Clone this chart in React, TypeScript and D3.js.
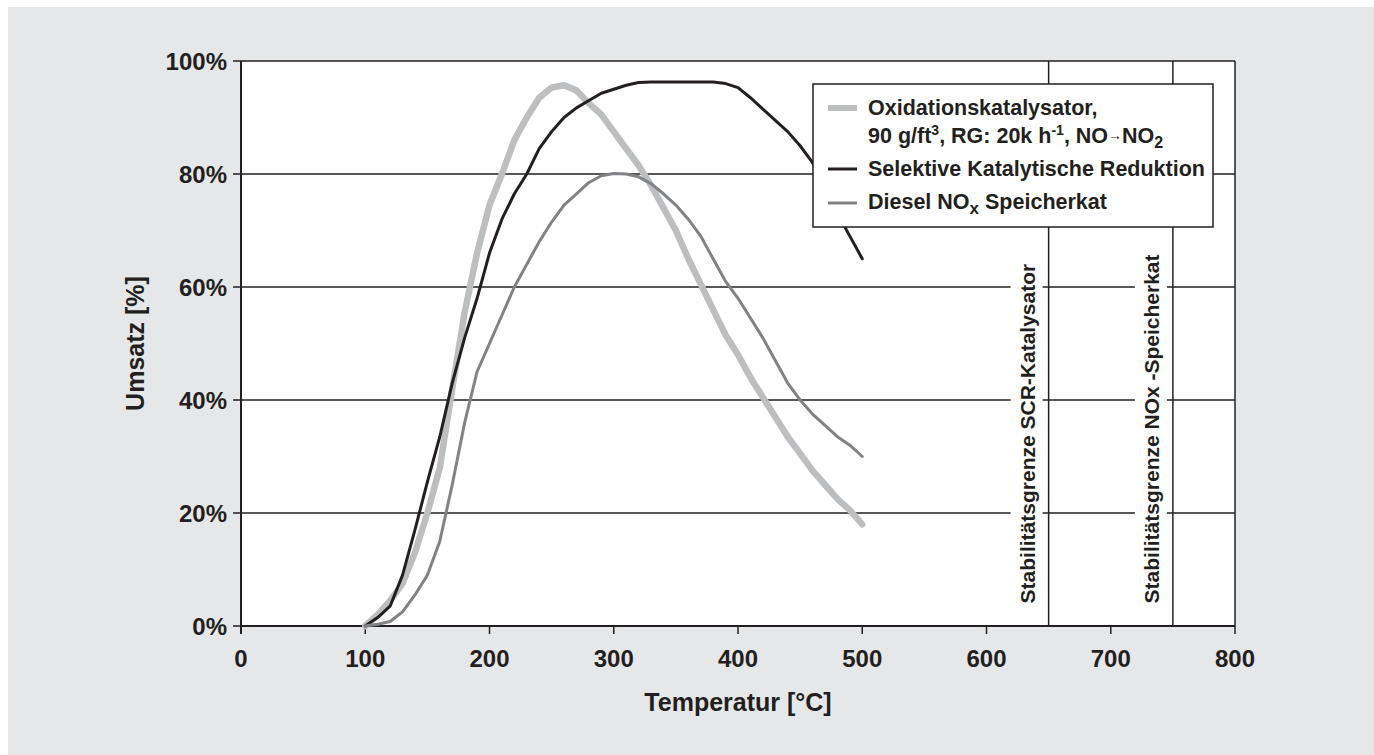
import React from 'react';
import * as d3 from 'd3';

// Temperatur [°C]
const temps = [100, 110, 120, 130, 140, 150, 160, 170, 180, 190, 200, 210, 220, 230, 240, 250, 260, 270, 280, 290, 300, 310, 320, 330, 340, 350, 360, 370, 380, 390, 400, 410, 420, 430, 440, 450, 460, 470, 480, 490, 500];

// Umsatz [%] per series
const oxidation = [0, 2, 4.5, 7.5, 13, 20, 28, 42, 55.5, 66, 74.5, 80, 86, 90, 93.5, 95.3, 95.7, 94.8, 92.5, 90.5, 87.5, 84.5, 81.5, 78, 74, 70, 65, 60.5, 56, 51.5, 48, 44, 40.5, 37, 33.5, 30.5, 27.5, 25, 22.5, 20.5, 18];
const scr = [0, 1.5, 3.5, 9, 17, 25.5, 33.5, 43, 51, 58, 66, 72, 76.5, 80, 84.5, 87.5, 90, 91.7, 93, 94.3, 95, 95.7, 96.2, 96.3, 96.3, 96.3, 96.3, 96.3, 96.3, 96, 95.3, 93.5, 91.5, 89.5, 87.5, 85, 82, 78, 73, 69, 65];
const dieselNox = [0, 0.3, 0.8, 2.5, 5.5, 9, 15, 25, 36, 45, 50, 55, 60, 64, 68, 71.5, 74.5, 76.5, 78.5, 79.7, 80.1, 80, 79.5, 78.3, 76.5, 74.5, 72, 69, 65, 61, 58, 54.5, 51, 47, 43, 40, 37.5, 35.5, 33.5, 32, 30];

const xTicks = [0, 100, 200, 300, 400, 500, 600, 700, 800];
const yTicks = [0, 20, 40, 60, 80, 100];
const limits = [
  { t: 650, label: 'Stabilitätsgrenze SCR-Katalysator' },
  { t: 750, label: 'Stabilitätsgrenze NOx -Speicherkat' },
];

const INK = '#231f20';
const FONT = '"Liberation Sans", Arial, Helvetica, sans-serif';

export default function App() {
  const x = d3.scaleLinear().domain([0, 800]).range([241, 1235]);
  const y = d3.scaleLinear().domain([0, 100]).range([626, 61]);

  const line = d3
    .line<number>()
    .x((_, i) => x(temps[i]))
    .y((d) => y(d));

  const series = [
    { values: oxidation, color: '#bcbec0', width: 6.5 },
    { values: scr, color: INK, width: 3 },
    { values: dieselNox, color: '#808285', width: 3 },
  ];

  return (
    <svg
      width={1374}
      height={755}
      style={{ position: 'absolute', left: 0, top: 0 }}
      fontFamily={FONT}
      fontWeight="bold"
    >
      <rect x={8} y={7} width={1366} height={748} fill="#e6e7e8" />
      <rect x={x(0)} y={y(100)} width={x(800) - x(0)} height={y(0) - y(100)} fill="#fff" />

      {/* horizontal gridlines + y ticks */}
      {yTicks.map((v) => (
        <g key={v}>
          <line x1={x(0) - 8} x2={x(800)} y1={y(v)} y2={y(v)} stroke={INK} strokeWidth={1.5} />
          <text x={x(0) - 14} y={y(v)} dy="0.36em" textAnchor="end" fontSize={24} fill={INK}>
            {v}%
          </text>
        </g>
      ))}

      {/* x ticks */}
      {xTicks.map((v) => (
        <g key={v}>
          <line x1={x(v)} x2={x(v)} y1={y(0)} y2={y(0) + 8} stroke={INK} strokeWidth={1.5} />
          <text x={x(v)} y={667} textAnchor="middle" fontSize={24} fill={INK}>
            {v}
          </text>
        </g>
      ))}

      {/* stability limits */}
      {limits.map((l) => (
        <g key={l.t}>
          <line x1={x(l.t)} x2={x(l.t)} y1={y(100)} y2={y(0)} stroke={INK} strokeWidth={1.5} />
          <rect x={x(l.t) - 38} y={y(68)} width={32} height={y(4) - y(68)} fill="#fff" />
          <text
            transform={`translate(${x(l.t) - 21},${y(4)}) rotate(-90)`}
            dy="0.36em"
            fontSize={21}
            fill={INK}
          >
            {l.label}
          </text>
        </g>
      ))}

      {/* axes frame */}
      <line x1={x(0)} x2={x(0)} y1={y(100)} y2={y(0) + 8} stroke={INK} strokeWidth={2} />
      <line x1={x(0)} x2={x(800)} y1={y(0)} y2={y(0)} stroke={INK} strokeWidth={2} />
      <line x1={x(800)} x2={x(800)} y1={y(100)} y2={y(0)} stroke={INK} strokeWidth={1.5} />

      {/* curves */}
      {series.map((s, i) => (
        <path
          key={i}
          d={line(s.values) ?? ''}
          fill="none"
          stroke={s.color}
          strokeWidth={s.width}
          strokeLinejoin="round"
          strokeLinecap="round"
        />
      ))}

      {/* legend */}
      <g fontSize={21.5} fill={INK}>
        <rect x={813} y={84} width={400} height={143} fill="#fff" stroke={INK} strokeWidth={1.5} />
        <line x1={828} x2={857} y1={108} y2={108} stroke="#bcbec0" strokeWidth={6} />
        <line x1={828} x2={857} y1={169} y2={169} stroke={INK} strokeWidth={3} />
        <line x1={828} x2={857} y1={203} y2={203} stroke="#808285" strokeWidth={3} />
        <text x={868} y={115}>Oxidationskatalysator,</text>
        <text x={868} y={143}>
          90 g/ft<tspan dy={-8} fontSize={14}>3</tspan>
          <tspan dy={8}>, RG: 20k h</tspan>
          <tspan dy={-8} fontSize={14}>-1</tspan>
          <tspan dy={8}>, NO</tspan>
          <tspan fontSize={14} dy={-3}>→</tspan>
          <tspan dy={3}>NO</tspan>
          <tspan dy={5} fontSize={16}>2</tspan>
        </text>
        <text x={868} y={176}>Selektive Katalytische Reduktion</text>
        <text x={868} y={209}>
          Diesel NO<tspan dy={5} fontSize={17}>x</tspan>
          <tspan dy={-5}> Speicherkat</tspan>
        </text>
      </g>

      {/* axis titles */}
      <text x={x(400)} y={711} textAnchor="middle" fontSize={25} fill={INK}>
        Temperatur [°C]
      </text>
      <text
        transform={`translate(135,${(y(0) + y(100)) / 2}) rotate(-90)`}
        dy="0.36em"
        textAnchor="middle"
        fontSize={25}
        fill={INK}
      >
        Umsatz [%]
      </text>
    </svg>
  );
}
